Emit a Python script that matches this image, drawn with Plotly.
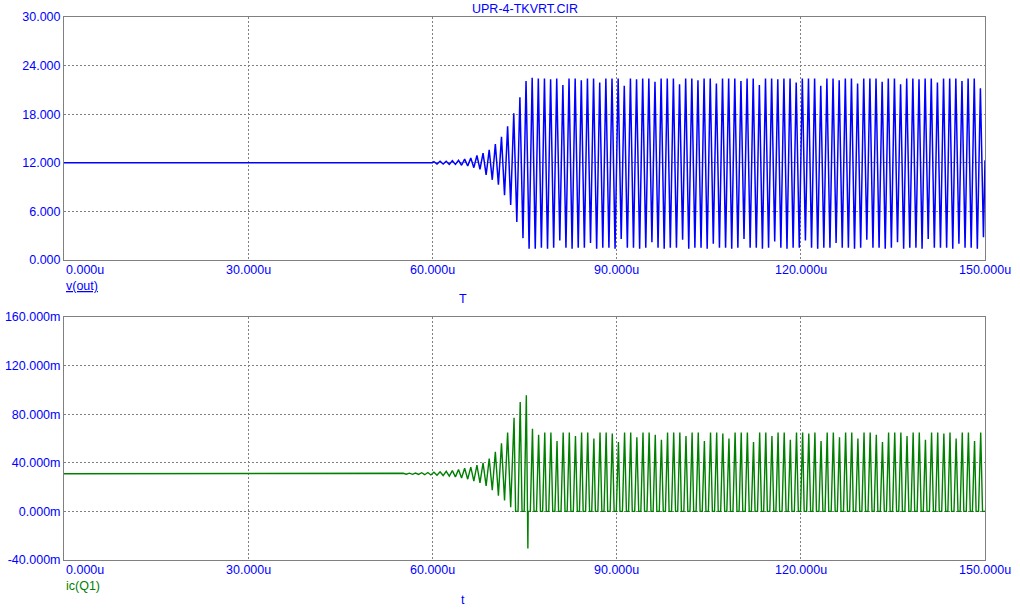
import plotly.graph_objects as go

# ---------------- data ----------------
T_END_US = 150.0
PERIOD_US = 1.0

# v(out): quiescent level, then one (max, min) pair per oscillation cycle
V_QUIESCENT = 12.0
V_OSC_START_US = 60.0
V_FINAL = 12.3
v_hi = [
    12.15, 12.2, 12.2, 12.25, 12.3, 12.45, 12.6, 12.9, 13.2, 13.6,
    14.3, 15.2, 16.5, 18.1, 20.1, 22.1, 22.5,
    22.4, 22.4, 22.3, 22.4, 21.6, 22.4, 22.4, 22.2, 22.4, 22.4,
    21.9, 22.4, 22.4, 22.4, 21.5, 22.4, 22.3, 22.4, 22.4, 22.0,
    22.4, 22.4, 22.4, 21.7, 22.4, 22.4, 22.2, 22.4, 22.4, 21.8,
    22.4, 22.4, 22.4, 22.1, 22.4, 22.4, 21.6, 22.4, 22.4, 22.3,
    22.4, 22.4, 21.9, 22.4, 22.4, 22.4, 21.5, 22.4, 22.4, 22.2,
    22.4, 22.4, 21.8, 22.4, 22.4, 22.4, 22.0, 22.4, 22.4, 21.7,
    22.4, 22.4, 22.3, 22.4, 22.4, 21.9, 22.4, 22.4, 22.4, 22.1,
    22.4, 22.4, 21.2,
]
v_lo = [
    11.85, 11.85, 11.8, 11.8, 11.7, 11.6, 11.4, 11.2, 10.5, 9.9,
    9.3, 8.0, 6.8, 4.7, 2.7, 1.4, 1.4,
    1.5, 1.4, 1.5, 2.4, 1.5, 1.4, 1.5, 1.5, 2.1, 1.4,
    1.5, 1.5, 1.4, 2.6, 1.5, 1.5, 1.4, 1.5, 2.2, 1.5,
    1.4, 1.5, 1.5, 2.5, 1.4, 1.5, 1.5, 1.4, 2.0, 1.5,
    1.5, 1.4, 1.5, 2.6, 1.5, 1.5, 1.4, 1.5, 2.3, 1.5,
    1.4, 1.5, 1.5, 2.4, 1.5, 1.4, 1.5, 1.5, 2.1, 1.5,
    1.5, 1.4, 1.5, 2.5, 1.5, 1.5, 1.4, 1.5, 2.2, 1.4,
    1.5, 1.5, 1.4, 2.6, 1.5, 1.5, 1.5, 1.4, 2.0, 1.5,
    1.5, 1.4, 2.8,
]

# ic(Q1) in mA: quiescent level, then one (max, min) pair per cycle
IC_QUIESCENT = 31.0
IC_OSC_START_US = 55.0
IC_FINAL = 0.5
ic_hi = [
    31.4, 31.5, 31.6, 31.8, 32.0, 32.2, 32.6, 33.0, 33.6, 34.5,
    35.5, 36.5, 38.0, 40.0, 43.5, 49.0, 56.0, 65.0, 77.0, 90.0,
    95.5, 68.0,
    63, 65, 65, 58, 65, 65, 62, 65, 65, 60,
    65, 65, 64, 57, 65, 65, 61, 65, 65, 63,
    59, 65, 65, 65, 62, 65, 65, 58, 65, 65,
    64, 60, 65, 65, 65, 57, 65, 65, 62, 65,
    65, 59, 65, 65, 64, 65, 58, 65, 65, 61,
    65, 65, 60, 65, 65, 63, 57, 65, 65, 65,
    62, 65, 65, 59, 65, 65, 64, 65, 60, 65,
    65, 58, 65,
]
ic_lo = [
    30.6, 30.5, 30.4, 30.2, 30.0, 29.8, 29.5, 29.0, 28.4, 27.5,
    26.5, 25.0, 23.5, 21.0, 17.5, 13.0, 9.0, 3.5, 0.0, 0.0,
    -30.5, 0.0,
    0.0, 0.0, 0.0, 0.0, 0.0, 0.0, 0.0, 0.0, 0.0, 0.0,
    0.0, 0.0, 0.0, 0.0, 0.0, 0.0, 0.0, 0.0, 0.0, 0.0,
    0.0, 0.0, 0.0, 0.0, 0.0, 0.0, 0.0, 0.0, 0.0, 0.0,
    0.0, 0.0, 0.0, 0.0, 0.0, 0.0, 0.0, 0.0, 0.0, 0.0,
    0.0, 0.0, 0.0, 0.0, 0.0, 0.0, 0.0, 0.0, 0.0, 0.0,
    0.0, 0.0, 0.0, 0.0, 0.0, 0.0, 0.0, 0.0, 0.0, 0.0,
    0.0, 0.0, 0.0, 0.0, 0.0, 0.0, 0.0, 0.0, 0.0, 0.0,
    0.0, 0.0, 0.0,
]

x_ticks = [0, 30, 60, 90, 120, 150]
x_ticktext = ["0.000u", "30.000u", "60.000u", "90.000u", "120.000u", "150.000u"]
v_ticks = [0, 6, 12, 18, 24, 30]
v_ticktext = ["0.000", "6.000", "12.000", "18.000", "24.000", "30.000"]
ic_ticks = [-40, 0, 40, 80, 120, 160]
ic_ticktext = ["-40.000m", "0.000m", "40.000m", "80.000m", "120.000m", "160.000m"]

TITLE = "UPR-4-TKVRT.CIR"

# ---------------- build polylines ----------------
vt = [0.0, V_OSC_START_US]
vv = [V_QUIESCENT, V_QUIESCENT]
for k, (h, l) in enumerate(zip(v_hi, v_lo)):
    t0 = V_OSC_START_US + k * PERIOD_US
    vt += [t0 + 0.25 * PERIOD_US, t0 + 0.75 * PERIOD_US]
    vv += [h, l]
vt.append(T_END_US)
vv.append(V_FINAL)

it = [0.0, IC_OSC_START_US]
iv = [IC_QUIESCENT, IC_QUIESCENT]
for k, (h, l) in enumerate(zip(ic_hi, ic_lo)):
    t0 = IC_OSC_START_US + k * PERIOD_US
    if l <= 0.0:
        it += [t0 + 0.3 * PERIOD_US, t0 + 0.55 * PERIOD_US,
               t0 + 0.6 * PERIOD_US, t0 + 0.95 * PERIOD_US]
        iv += [h, l, 0.0, 0.0]
    else:
        it += [t0 + 0.25 * PERIOD_US, t0 + 0.75 * PERIOD_US]
        iv += [h, l]
it.append(T_END_US)
iv.append(IC_FINAL)

# ---------------- figure ----------------
W, H = 1020, 616
BLUE = "#0000FF"
GREEN = "#008000"
GRAY = "#808080"
FONT = "Liberation Sans, Arial, sans-serif"
FS = 12.5

fig = go.Figure()
fig.add_trace(go.Scatter(x=vt, y=vv, mode="lines", line=dict(color=BLUE, width=1.5),
                         xaxis="x", yaxis="y", hoverinfo="skip"))
fig.add_trace(go.Scatter(x=it, y=iv, mode="lines", line=dict(color=GREEN, width=1.4),
                         xaxis="x2", yaxis="y2", hoverinfo="skip"))

xl, xr = 64 / W, 985 / W
axis_common = dict(showline=True, mirror=True, linecolor=GRAY, linewidth=1,
                   showgrid=True, gridcolor=GRAY, gridwidth=1, griddash="2px,2px",
                   zeroline=False, ticks="", fixedrange=True, automargin=False)

fig.update_layout(
    template="none",
    width=W, height=H, autosize=False,
    margin=dict(l=0, r=0, t=0, b=0, pad=0, autoexpand=False),
    paper_bgcolor="white", plot_bgcolor="white", showlegend=False,
    font=dict(family=FONT, size=FS, color=BLUE),
    xaxis=dict(domain=[xl, xr], range=[0, 150], anchor="y", tickvals=x_ticks,
               showticklabels=False, **axis_common),
    yaxis=dict(domain=[1 - 260 / H, 1 - 17 / H], range=[0, 30], anchor="x",
               tickvals=v_ticks, ticktext=v_ticktext,
               tickfont=dict(family=FONT, size=FS, color=BLUE), **axis_common),
    xaxis2=dict(domain=[xl, xr], range=[0, 150], anchor="y2", tickvals=x_ticks,
                showticklabels=False, **axis_common),
    yaxis2=dict(domain=[1 - 560 / H, 1 - 317 / H], range=[-40, 160], anchor="x2",
                tickvals=ic_ticks, ticktext=ic_ticktext,
                tickfont=dict(family=FONT, size=FS, color=BLUE), **axis_common),
)

ann = []
for xref, ypix in (("x", 269.5), ("x2", 569.5)):
    for v, txt in zip(x_ticks, x_ticktext):
        ann.append(dict(x=v, y=1 - ypix / H, xref=xref, yref="paper", text=txt,
                        showarrow=False, xanchor="left" if v == 0 else "center",
                        yanchor="middle", font=dict(family=FONT, size=FS, color=BLUE)))
ann.append(dict(x=0.5 * (xl + xr), y=1 - 9 / H, xref="paper", yref="paper", text=TITLE,
                showarrow=False, xanchor="center", yanchor="middle",
                font=dict(family=FONT, size=FS, color=BLUE)))
ann.append(dict(x=xl, y=1 - 286 / H, xref="paper", yref="paper", text="<u>v(out)</u>",
                showarrow=False, xanchor="left", yanchor="middle",
                font=dict(family=FONT, size=FS, color=BLUE)))
ann.append(dict(x=463 / W, y=1 - 299 / H, xref="paper", yref="paper", text="T",
                showarrow=False, xanchor="center", yanchor="middle",
                font=dict(family=FONT, size=FS, color=BLUE)))
ann.append(dict(x=xl, y=1 - 586 / H, xref="paper", yref="paper", text="ic(Q1)",
                showarrow=False, xanchor="left", yanchor="middle",
                font=dict(family=FONT, size=FS, color=GREEN)))
ann.append(dict(x=463 / W, y=1 - 600 / H, xref="paper", yref="paper", text="t",
                showarrow=False, xanchor="center", yanchor="middle",
                font=dict(family=FONT, size=FS, color=BLUE)))
fig.update_layout(annotations=ann)

fig.write_html("out.html", config={"displayModeBar": False},
               post_script="document.body.style.margin='0';"
                           "document.documentElement.style.overflow='hidden';")
